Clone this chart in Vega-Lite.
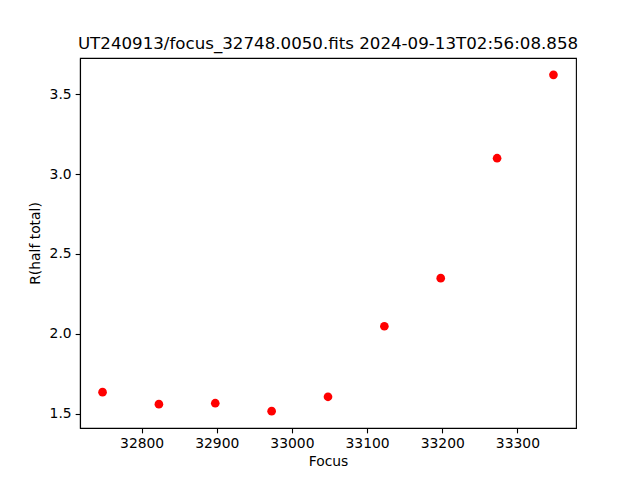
{
  "$schema": "https://vega.github.io/schema/vega-lite/v6.json",
  "width": 496,
  "height": 370,
  "autosize": {"type": "none"},
  "padding": {"left": 80, "top": 58, "right": 64, "bottom": 52},
  "background": "white",
  "title": {
    "text": "UT240913/focus_32748.0050.fits 2024-09-13T02:56:08.858",
    "font": "DejaVu Sans",
    "fontSize": 16.67,
    "fontWeight": "normal",
    "color": "black",
    "anchor": "middle",
    "offset": 5
  },
  "config": {
    "view": {"stroke": "black", "strokeWidth": 1.11},
    "axis": {
      "grid": false,
      "domainColor": "black",
      "domainWidth": 1.11,
      "tickColor": "black",
      "tickWidth": 1.11,
      "tickSize": 4.86,
      "labelPadding": 4,
      "labelFont": "DejaVu Sans",
      "labelFontSize": 13.89,
      "labelColor": "black",
      "titleFont": "DejaVu Sans",
      "titleFontSize": 13.89,
      "titleFontWeight": "normal",
      "titleColor": "black"
    }
  },
  "data": {
    "values": [
      {"focus": 32748, "r": 1.634},
      {"focus": 32823, "r": 1.559},
      {"focus": 32898, "r": 1.565},
      {"focus": 32973, "r": 1.515},
      {"focus": 33048, "r": 1.605},
      {"focus": 33123, "r": 2.047},
      {"focus": 33198, "r": 2.348},
      {"focus": 33273, "r": 3.099},
      {"focus": 33348, "r": 3.621}
    ]
  },
  "mark": {"type": "point", "filled": true, "shape": "circle", "size": 75, "color": "#ff0000", "opacity": 1},
  "encoding": {
    "x": {
      "field": "focus",
      "type": "quantitative",
      "title": "Focus",
      "scale": {"domain": [32718, 33378], "zero": false, "nice": false},
      "axis": {"values": [32800, 32900, 33000, 33100, 33200, 33300], "format": "d", "titlePadding": 4}
    },
    "y": {
      "field": "r",
      "type": "quantitative",
      "title": "R(half total)",
      "scale": {"domain": [1.4097, 3.7263], "zero": false, "nice": false},
      "axis": {"values": [1.5, 2.0, 2.5, 3.0, 3.5], "format": ".1f", "titlePadding": 7}
    }
  }
}
